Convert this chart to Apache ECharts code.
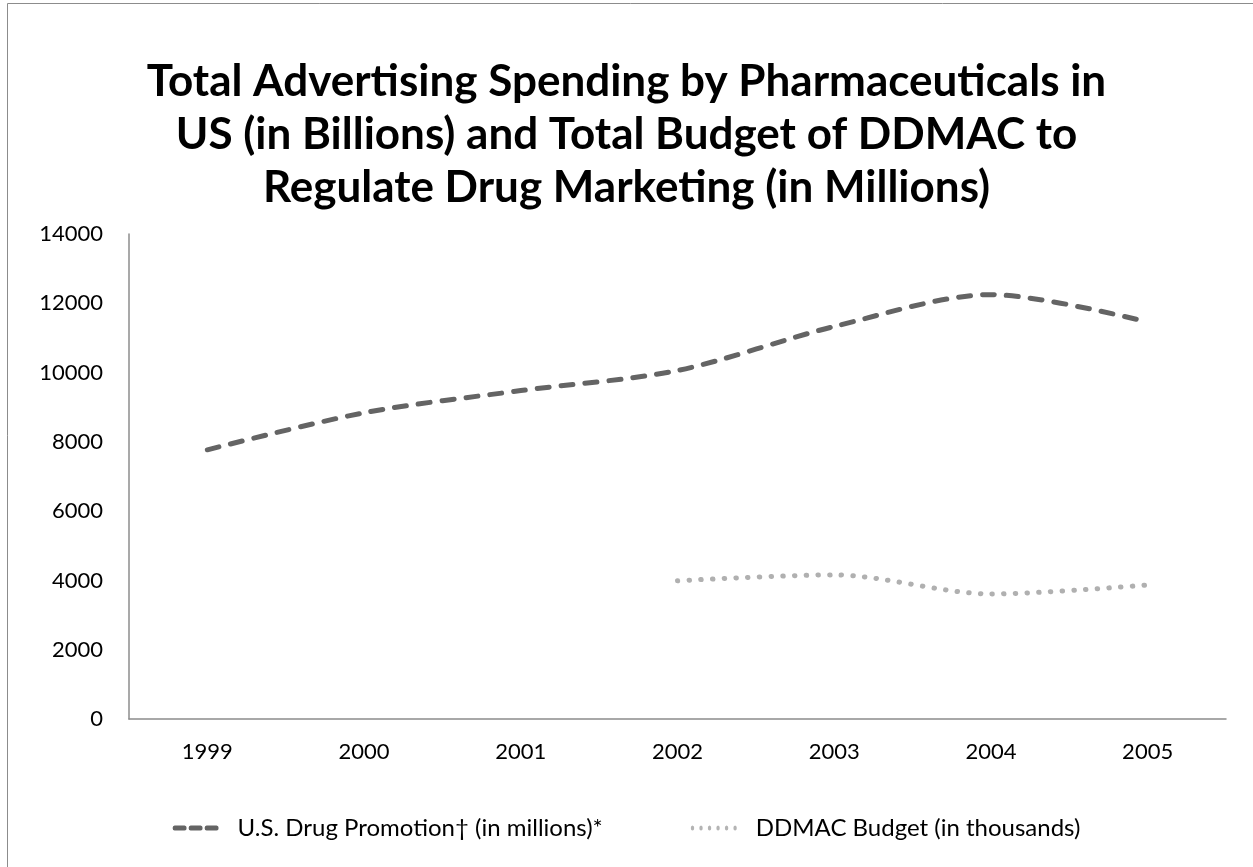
<!DOCTYPE html>
<html>
<head>
<meta charset="utf-8">
<script src="https://cdn.jsdelivr.net/npm/echarts@6/dist/echarts.min.js"></script>
<style>
html,body{margin:0;padding:0;background:#fff;}
#chart{width:1253px;height:867px;}
</style>
</head>
<body>
<div id="chart"></div>
<script>
const years = ['1999', '2000', '2001', '2002', '2003', '2004', '2005'];
const promotion = [7770, 8840, 9480, 10060, 11330, 12250, 11460];
const ddmac = [null, null, null, 3990, 4160, 3610, 3870];
const yTicks = { min: 0, max: 14000, interval: 2000 };
const seriesNames = ['U.S. Drug Promotion\u2020 (in millions)*', 'DDMAC Budget (in thousands)'];
const titleText = 'Total Advertising Spending by Pharmaceuticals in\nUS (in Billions) and Total Budget of DDMAC to\nRegulate Drug Marketing (in Millions)';

const FONT = 'Lato';
const dashIcon = 'path://M2,0 L12,0 A2,2 0 0 1 12,4 L2,4 A2,2 0 0 1 2,0 Z M18,0 L28,0 A2,2 0 0 1 28,4 L18,4 A2,2 0 0 1 18,0 Z M34,0 L44,0 A2,2 0 0 1 44,4 L34,4 A2,2 0 0 1 34,0 Z';
let dotPath = 'path://';
for (let i = 0; i < 6; i++) {
  const cx = 2 + i * 10;
  dotPath += 'M' + (cx - 2) + ',2 A2,2 0 1 1 ' + (cx + 2) + ',2 A2,2 0 1 1 ' + (cx - 2) + ',2 Z ';
}

const chart = echarts.init(document.getElementById('chart'), null, { renderer: 'canvas' });
chart.setOption({
  backgroundColor: '#ffffff',
  animation: false,
  graphic: [{
    type: 'rect',
    shape: { x: 7.5, y: 3.5, width: 1260, height: 880 },
    style: { fill: 'none', stroke: '#8c8c8c', lineWidth: 1 },
    silent: true, z: -10
  }],
  title: {
    text: titleText,
    left: 'center',
    top: 50,
    textStyle: { fontFamily: FONT, fontWeight: 'bold', fontSize: 44, lineHeight: 53, color: '#000' }
  },
  grid: { left: 129, right: 27, top: 234, bottom: 148, containLabel: false },
  legend: {
    bottom: 22,
    left: 'center',
    itemGap: 88,
    symbolKeepAspect: false,
    itemWidth: 46,
    itemHeight: 5,
    textStyle: { fontFamily: FONT, fontSize: 24, color: '#000', padding: [0, 0, 0, 14] },
    data: [
      { name: seriesNames[0], icon: dashIcon, itemStyle: { color: '#646464' } },
      { name: seriesNames[1], icon: dotPath, itemStyle: { color: '#b4b4b4' } }
    ]
  },
  xAxis: {
    type: 'category',
    data: years,
    boundaryGap: true,
    axisLine: { lineStyle: { color: '#8c8c8c', width: 1.5 } },
    axisTick: { show: false },
    axisLabel: { fontFamily: FONT, fontSize: 22, color: '#000', margin: 22 },
    splitLine: { show: false }
  },
  yAxis: {
    type: 'value',
    min: yTicks.min, max: yTicks.max, interval: yTicks.interval,
    axisLine: { show: true, lineStyle: { color: '#8c8c8c', width: 1.5 } },
    axisTick: { show: false },
    axisLabel: { fontFamily: FONT, fontSize: 22, color: '#000', margin: 26, formatter: v => String(v) },
    splitLine: { show: false }
  },
  series: [
    {
      name: seriesNames[0],
      type: 'line',
      data: promotion,
      smooth: 0.3,
      symbol: 'none',
      lineStyle: { color: '#646464', width: 5, type: [12, 12], cap: 'round' },
      itemStyle: { color: '#646464' }
    },
    {
      name: seriesNames[1],
      type: 'line',
      data: ddmac,
      smooth: 0.3,
      symbol: 'none',
      connectNulls: false,
      lineStyle: { color: '#b0b0b0', width: 5, type: [0.5, 11.2], cap: 'round' },
      itemStyle: { color: '#b0b0b0' }
    }
  ]
});
</script>
</body>
</html>
